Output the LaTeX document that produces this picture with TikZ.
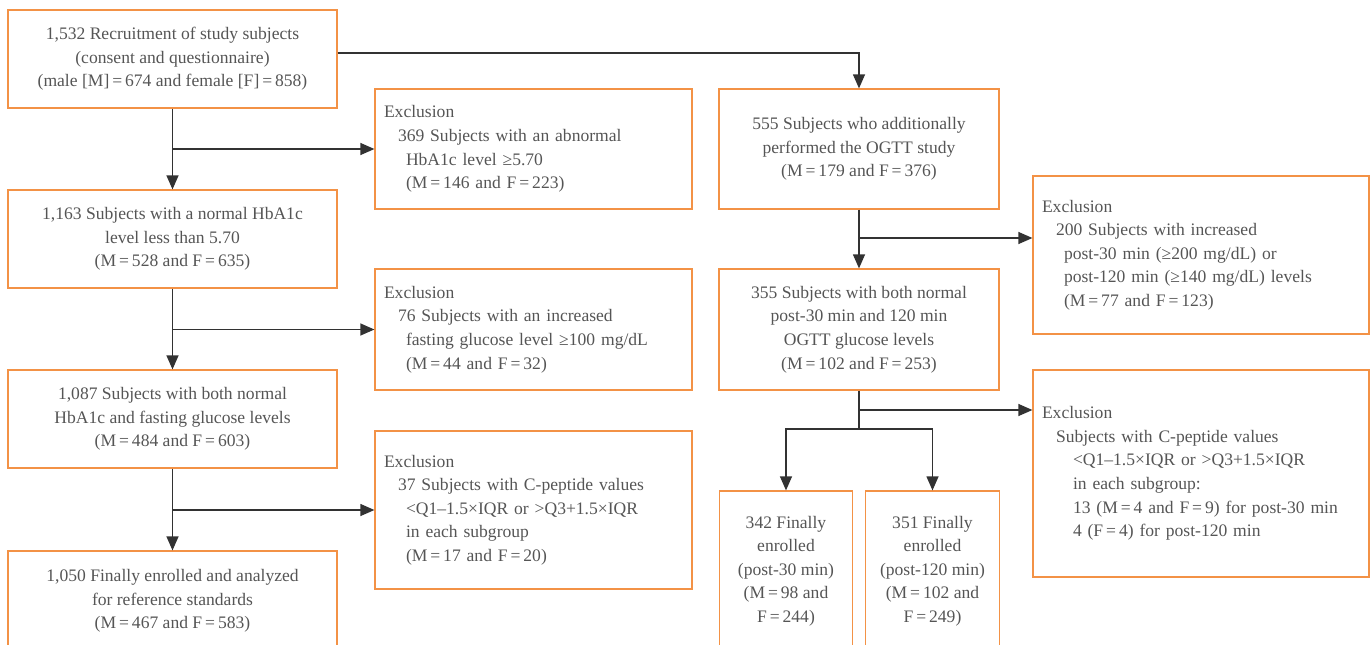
\documentclass[tikz,border=0pt]{standalone}
\usepackage{fontspec}
\setmainfont{Liberation Serif}
\usepackage{xcolor}
\usepackage{tikz}
\usetikzlibrary{arrows.meta, positioning}
\definecolor{boxorange}{RGB}{243, 146, 70}
\definecolor{textgray}{RGB}{85, 85, 85}
\definecolor{arrowgray}{RGB}{50, 50, 50}
\newcommand{\eqs}{\thinspace=\thinspace}

\begin{document}
\begin{tikzpicture}[
  >=Triangle,
  box/.style={
    rectangle, draw=boxorange, line width=0.7pt, inner sep=0pt,
    text=textgray, font=\fontsize{10}{13.4}\selectfont, align=center
  },
  mainbox/.style={box, minimum width=6.58cm, minimum height=1.96cm},
  ogttbox/.style={box, minimum width=5.6cm},
  smallbox/.style={box, minimum width=2.67cm, minimum height=3.2cm},
  exclbox/.style={box, align=left, minimum width=6.34cm, text width=5.98cm},
  exclwide/.style={box, align=left, minimum width=6.72cm, text width=6.36cm},
  arr/.style={-{Triangle[length=0.28cm, width=0.24cm]}, draw=arrowgray, line width=0.7pt},
  line/.style={draw=arrowgray, line width=0.7pt},
]

\useasboundingbox (0, 0) rectangle (27.44, -12.9);
\clip (0, 0) rectangle (27.44, -12.9);

\def\colL{3.45}
\def\colX{10.67}
\def\colR{17.18}
\def\colF{24.02}

\def\indA{\hspace*{0.28cm}}
\def\indB{\hspace*{0.44cm}}
\def\indC{\hspace*{0.62cm}}

% Main flow (left column)
\node[mainbox] (recruit) at (\colL, -1.18) {1,532 Recruitment of study subjects\\(consent and questionnaire)\\(male [M]\eqs674 and female [F]\eqs858)};
\node[mainbox] (normhb)  at (\colL, -4.78) {1,163 Subjects with a normal HbA1c\\level less than 5.70\\(M\eqs528 and F\eqs635)};
\node[mainbox] (normfg)  at (\colL, -8.38) {1,087 Subjects with both normal\\HbA1c and fasting glucose levels\\(M\eqs484 and F\eqs603)};
\node[mainbox, minimum height=2.0cm] (final) at (\colL, -12.02) {1,050 Finally enrolled and analyzed\\for reference standards\\(M\eqs467 and F\eqs583)};

% Exclusions (left flow)
\node[exclbox, minimum height=2.4cm] (exA) at (\colX, -2.98) {Exclusion\\\indA369 Subjects with an abnormal\\\indB HbA1c level ≥5.70\\\indB(M\eqs146 and F\eqs223)};
\node[exclbox, minimum height=2.42cm] (exB) at (\colX, -6.59) {Exclusion\\\indA76 Subjects with an increased\\\indB fasting glucose level ≥100 mg/dL\\\indB(M\eqs44 and F\eqs32)};
\node[exclbox, minimum height=3.16cm] (exC) at (\colX, -10.2) {Exclusion\\\indA37 Subjects with C-peptide values\\\indB<Q1–1.5×IQR or >Q3+1.5×IQR\\\indB in each subgroup\\\indB(M\eqs17 and F\eqs20)};

% OGTT flow (right column)
\node[ogttbox, minimum height=2.4cm] (ogtt) at (\colR, -2.98) {555 Subjects who additionally\\performed the OGTT study\\(M\eqs179 and F\eqs376)};
\node[ogttbox, minimum height=2.42cm] (ogttnorm) at (\colR, -6.59) {355 Subjects with both normal\\post-30 min and 120 min\\OGTT glucose levels\\(M\eqs102 and F\eqs253)};
\node[smallbox] (fin30)  at (15.72, -11.42) {342 Finally\\enrolled\\(post-30 min)\\(M\eqs98 and\\F\eqs244)};
\node[smallbox] (fin120) at (18.65, -11.42) {351 Finally\\enrolled\\(post-120 min)\\(M\eqs102 and\\F\eqs249)};

% Exclusions (OGTT flow)
\node[exclwide, minimum height=3.16cm] (exD) at (\colF, -5.1) {Exclusion\\\indA200 Subjects with increased\\\indB post-30 min (≥200 mg/dL) or\\\indB post-120 min (≥140 mg/dL) levels\\\indB(M\eqs77 and F\eqs123)};
\node[exclwide, minimum height=4.14cm] (exE) at (\colF, -9.47) {Exclusion\\\indA Subjects with C-peptide values\\\indC<Q1–1.5×IQR or >Q3+1.5×IQR\\\indC in each subgroup:\\\indC 13 (M\eqs4 and F\eqs9) for post-30 min\\\indC 4 (F\eqs4) for post-120 min};

% 1. Left column arrows
\draw[arr] (recruit.south) -- (normhb.north);
\draw[arr] (recruit.south |- exA.west) -- (exA.west);
\draw[arr] (normhb.south) -- (normfg.north);
\draw[arr] (normhb.south |- exB.west) -- (exB.west);
\draw[arr] (normfg.south) -- (final.north);
\draw[arr] (normfg.south |- exC.west) -- (exC.west);

% 2. OGTT branch
\draw[arr] ([yshift=0.12cm]recruit.east) -| (ogtt.north);
\draw[arr] (ogtt.south) -- (ogttnorm.north);
\coordinate (brD) at (\colR, -4.76);
\draw[arr] (brD) -- (brD -| exD.west);

% 3. Split into post-30 / post-120
\coordinate (brE) at (\colR, -8.2);
\coordinate (split) at (\colR, -8.58);
\draw[line] (ogttnorm.south) -- (split);
\draw[arr] (brE) -- (brE -| exE.west);
\draw[arr] (split) -| (fin30.north);
\draw[arr] (split) -| (fin120.north);

\end{tikzpicture}
\end{document}
